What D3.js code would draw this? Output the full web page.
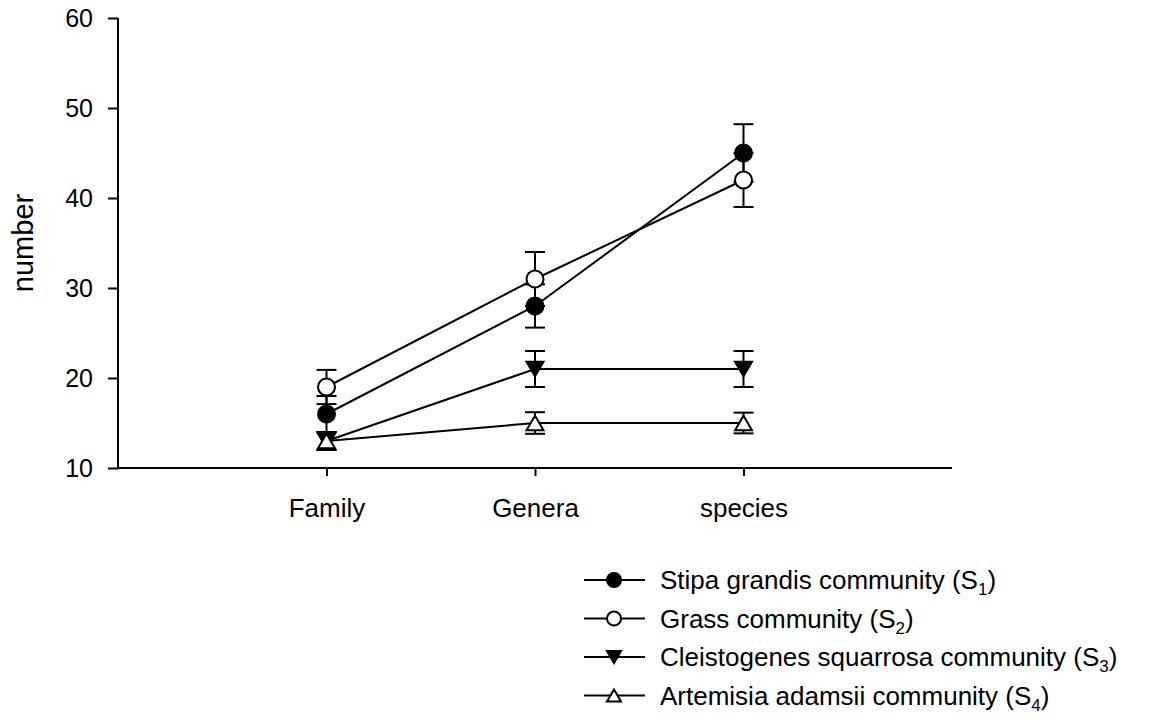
<!DOCTYPE html>
<html>
<head>
<meta charset="utf-8">
<script src="https://cdn.jsdelivr.net/npm/d3@7"></script>
<style>
  body { margin: 0; background: #fff; }
  text { font-family: Arial, "Liberation Sans", sans-serif; fill: #000; }
</style>
</head>
<body>
<div id="chart"></div>
<script>
var categories = ["Family", "Genera", "species"];
var seriesNames = [
  "Stipa grandis community",
  "Grass community",
  "Cleistogenes squarrosa community",
  "Artemisia adamsii community"
];
var seriesSubs = ["1", "2", "3", "4"];
var seriesMarkers = ["circleFilled", "circleOpen", "triDownFilled", "triUpOpen"];
var seriesValues = [
  [16, 28, 45],
  [19, 31, 42],
  [13, 21, 21],
  [13, 15, 15]
];
var seriesErrors = [
  [2.0, 2.4, 3.2],
  [1.9, 3.0, 3.0],
  [1.0, 2.0, 2.0],
  [1.0, 1.2, 1.15]
];
var yTicks = [10, 20, 30, 40, 50, 60];

var svgWidth = 1150;
var svgHeight = 724;
var margin = { top: 18, right: 198, bottom: 256, left: 118 };
var width = svgWidth - margin.left - margin.right;
var height = svgHeight - margin.top - margin.bottom;

var svg = d3.select("#chart")
  .append("svg")
  .attr("width", svgWidth)
  .attr("height", svgHeight);

var chartGroup = svg.append("g")
  .attr("transform", `translate(${margin.left}, ${margin.top})`);

// categories sit at 1,2,3 on a 0..4 axis
var x = d3.scaleLinear().domain([0, 4]).range([0, width]);
var y = d3.scaleLinear().domain([10, 60]).range([height, 0]);

var xAxis = d3.axisBottom(x)
  .tickValues([1, 2, 3])
  .tickFormat(d => categories[d - 1])
  .tickSize(8)
  .tickPadding(23);
var yAxis = d3.axisLeft(y)
  .tickValues(yTicks)
  .tickSize(10)
  .tickPadding(15);

var gx = chartGroup.append("g")
  .attr("transform", `translate(0, ${height})`)
  .call(xAxis);
var gy = chartGroup.append("g").call(yAxis);

[gx, gy].forEach(function(g) {
  g.select(".domain").attr("stroke", "#000").attr("stroke-width", 2);
  g.selectAll(".tick line").attr("stroke", "#000").attr("stroke-width", 2);
  g.selectAll(".tick text")
    .attr("font-family", "Arial, 'Liberation Sans', sans-serif").attr("fill", "#000");
});
gx.selectAll(".tick text").attr("font-size", "26px");
gy.selectAll(".tick text").attr("font-size", "25px");
gy.select(".domain").attr("d", `M0,${height}V0`);
gx.select(".domain").attr("d", `M0,0H${width}`);

chartGroup.append("text")
  .attr("transform", "rotate(-90)")
  .attr("x", -height / 2)
  .attr("y", -margin.left + 33)
  .attr("text-anchor", "middle")
  .attr("font-size", "29px")
  .text("number");

function drawMarker(g, type, cx, cy, r) {
  if (type === "circleFilled" || type === "circleOpen") {
    g.append("circle")
      .attr("cx", cx).attr("cy", cy).attr("r", r)
      .attr("fill", type === "circleFilled" ? "#000" : "#fff")
      .attr("stroke", "#000").attr("stroke-width", 2);
  } else {
    var h = r * 1.7, w = r * 1.0;
    var pts = type === "triDownFilled"
      ? [[cx - w, cy - h / 2], [cx + w, cy - h / 2], [cx, cy + h / 2]]
      : [[cx - w, cy + h / 2], [cx + w, cy + h / 2], [cx, cy - h / 2]];
    g.append("path")
      .attr("d", d3.line()(pts) + "Z")
      .attr("fill", type === "triDownFilled" ? "#000" : "#fff")
      .attr("stroke", "#000").attr("stroke-width", 2)
      .attr("stroke-linejoin", "miter");
  }
}

var line = d3.line().x((d, i) => x(i + 1)).y(d => y(d));
var capHalf = 10;

seriesValues.forEach(function(vals, s) {
  var g = chartGroup.append("g");
  g.append("path")
    .attr("d", line(vals))
    .attr("fill", "none")
    .attr("stroke", "#000")
    .attr("stroke-width", 2);
  vals.forEach(function(v, i) {
    var e = seriesErrors[s][i];
    var cx = x(i + 1);
    g.append("line")
      .attr("x1", cx).attr("x2", cx)
      .attr("y1", y(v + e)).attr("y2", y(v - e))
      .attr("stroke", "#000").attr("stroke-width", 2);
    [v + e, v - e].forEach(function(ev) {
      g.append("line")
        .attr("x1", cx - capHalf).attr("x2", cx + capHalf)
        .attr("y1", y(ev)).attr("y2", y(ev))
        .attr("stroke", "#000").attr("stroke-width", 2);
    });
  });
  vals.forEach(function(v, i) {
    drawMarker(g, seriesMarkers[s], x(i + 1), y(v), 8.5);
  });
});

// legend
var legend = svg.append("g").attr("transform", "translate(584, 580)");
seriesNames.forEach(function(name, s) {
  var row = legend.append("g").attr("transform", `translate(0, ${s * 38.5})`);
  row.append("line")
    .attr("x1", 0).attr("x2", 61).attr("y1", 0).attr("y2", 0)
    .attr("stroke", "#000").attr("stroke-width", 2);
  drawMarker(row, seriesMarkers[s], 30, 0, 7);
  var t = row.append("text")
    .attr("x", 76).attr("y", 9)
    .attr("font-size", "26px");
  t.append("tspan").text(name + " (S");
  t.append("tspan").attr("font-size", "17px").attr("dy", 6).text(seriesSubs[s]);
  t.append("tspan").attr("dy", -6).text(")");
});
</script>
</body>
</html>
